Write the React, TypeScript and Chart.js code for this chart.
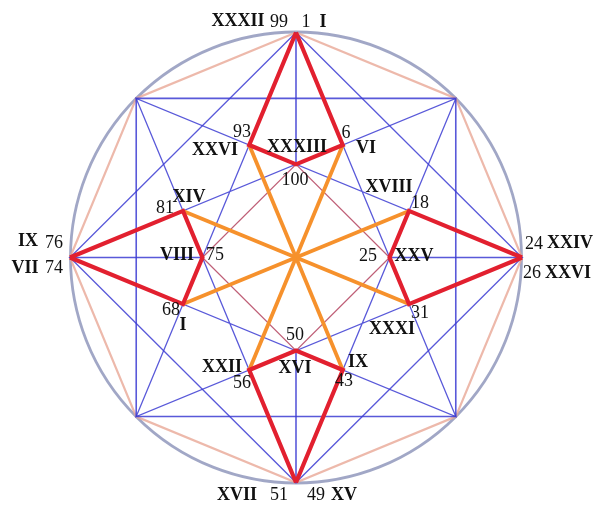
import React, { useEffect, useRef } from "react";
import { Chart, registerables } from "chart.js";
Chart.register(...registerables);

// Eight points on the rim (top first, clockwise)
const rimX = [0, 0.707, 1, 0.707, 0, -0.707, -1, -0.707];
const rimY = [1, 0.707, 0, -0.707, -1, -0.707, 0, 0.707];

// Inner diamond points: 100, 25, 50, 75
const innerX = [0, 0.414, 0, -0.414];
const innerY = [0.414, 0, -0.414, 0];

// Side points: 6, 18, 31, 43, 56, 68, 81, 93
const sideX = [0.207, 0.5, 0.5, 0.207, -0.207, -0.5, -0.5, -0.207];
const sideY = [0.5, 0.207, -0.207, -0.5, -0.5, -0.207, 0.207, 0.5];

// Line orders over rim points
const octagonOrder = [0, 1, 2, 3, 4, 5, 6, 7, 0];
const squareOrder = [1, 3, 5, 7, 1];
const diamondOrder = [0, 2, 4, 6, 0];
const starOrder = [0, 3, 6, 1, 4, 7, 2, 5, 0];

// Labels
const labelText = [
  "XXXII", "99", "1", "I",
  "93", "XXVI", "XXXIII", "6", "VI", "100", "XVIII",
  "XIV", "81", "IX", "76", "VII", "74", "VIII", "75", "68", "I",
  "18", "25", "XXV", "24", "XXIV", "26", "XXVI", "31", "XXXI",
  "50", "XXII", "XVI", "IX", "56", "43",
  "XVII", "51", "49", "XV",
];
const labelX = [
  -0.257, -0.075, 0.044, 0.119,
  -0.239, -0.358, 0.004, 0.221, 0.31, -0.004, 0.412,
  -0.473, -0.58, -1.186, -1.071, -1.199, -1.071, -0.527, -0.358, -0.553, -0.5,
  0.549, 0.319, 0.522, 1.053, 1.212, 1.044, 1.204, 0.549, 0.425,
  -0.004, -0.327, -0.004, 0.274, -0.239, 0.212,
  -0.261, -0.075, 0.088, 0.212,
];
const labelY = [
  1.049, 1.047, 1.047, 1.047,
  0.558, 0.478, 0.491, 0.553, 0.487, 0.344, 0.313,
  0.269, 0.22, 0.073, 0.064, -0.047, -0.047, 0.011, 0.011, -0.233, -0.3,
  0.242, 0.007, 0.007, 0.06, 0.064, -0.069, -0.069, -0.247, -0.318,
  -0.344, -0.487, -0.491, -0.464, -0.558, -0.549,
  -1.056, -1.056, -1.056, -1.056,
];

const isRoman = (t: string) => /^[IVXLC]+$/.test(t);

const BLUE = "rgba(60,60,210,0.85)";
const PINK = "rgba(232,168,150,0.8)";
const RIM = "rgba(145,152,188,0.85)";
const RED = "#e2202f";
const ORANGE = "#f6912c";
const DARKRED = "rgba(175,55,85,0.8)";

const rimPath = (order: number[]) => order.map((i) => ({ x: rimX[i], y: rimY[i] }));

function line(data: any[], color: string, width: number) {
  return {
    data,
    showLine: true,
    borderColor: color,
    backgroundColor: color,
    borderWidth: width,
    pointRadius: 0,
    pointHoverRadius: 0,
    fill: false,
    clip: false,
    borderJoinStyle: "miter" as const,
  };
}

export default function App() {
  const ref = useRef<HTMLCanvasElement | null>(null);
  useEffect(() => {
    if (!ref.current) return;
    const datasets: any[] = [];
    // red kites (topmost)
    for (let k = 0; k < 4; k++) {
      const s1 = 2 * k;
      const s2 = (2 * k + 7) % 8;
      datasets.push(
        line(
          [
            { x: rimX[2 * k], y: rimY[2 * k] },
            { x: sideX[s1], y: sideY[s1] },
            { x: innerX[k], y: innerY[k] },
            { x: sideX[s2], y: sideY[s2] },
            { x: rimX[2 * k], y: rimY[2 * k] },
          ],
          RED,
          4.2
        )
      );
    }
    // orange spokes
    for (let i = 0; i < 8; i++) {
      datasets.push(
        line([{ x: 0, y: 0 }, { x: sideX[i], y: sideY[i] }], ORANGE, 3.8)
      );
    }
    // thin inner diamond
    datasets.push(
      line(
        [0, 1, 2, 3, 0].map((i) => ({ x: innerX[i], y: innerY[i] })),
        DARKRED,
        1.3
      )
    );
    // blue axis segments
    for (let k = 0; k < 4; k++) {
      datasets.push(
        line(
          [
            { x: rimX[2 * k], y: rimY[2 * k] },
            { x: innerX[k], y: innerY[k] },
          ],
          BLUE,
          1.6
        )
      );
    }
    datasets.push(line(rimPath(starOrder), BLUE, 1.3));
    datasets.push(line(rimPath(diamondOrder), BLUE, 1.3));
    datasets.push(line(rimPath(squareOrder), BLUE, 1.6));
    datasets.push(line(rimPath(octagonOrder), PINK, 2.2));
    // rim circle
    datasets.push({
      data: [{ x: 0, y: 0 }],
      showLine: false,
      pointRadius: 225.5,
      pointHoverRadius: 225.5,
      pointBackgroundColor: "rgba(0,0,0,0)",
      pointBorderColor: RIM,
      pointBorderWidth: 2.8,
      clip: false,
    });

    const labelPlugin = {
      id: "labels",
      afterDatasetsDraw(chart: any) {
        const { ctx, scales } = chart;
        ctx.save();
        ctx.textAlign = "center";
        ctx.textBaseline = "middle";
        ctx.fillStyle = "#111";
        for (let i = 0; i < labelText.length; i++) {
          const t = labelText[i];
          ctx.font = isRoman(t)
            ? 'bold 18px "Liberation Serif", "Times New Roman", serif'
            : '18px "Liberation Serif", "Times New Roman", serif';
          ctx.fillText(
            t,
            scales.x.getPixelForValue(labelX[i]),
            scales.y.getPixelForValue(labelY[i])
          );
        }
        ctx.restore();
      },
    };

    const chart = new Chart(ref.current, {
      type: "scatter",
      data: { datasets },
      options: {
        responsive: false,
        maintainAspectRatio: false,
        animation: false,
        devicePixelRatio: 1,
        events: [],
        layout: { padding: 0, autoPadding: false },
        plugins: { legend: { display: false }, tooltip: { enabled: false } },
        scales: {
          x: { type: "linear", display: false, min: -1.3097, max: 1.323 },
          y: { type: "linear", display: false, min: -1.1089, max: 1.1444 },
        },
      } as any,
      plugins: [labelPlugin],
    });
    return () => chart.destroy();
  }, []);
  return (
    <div style={{ position: "absolute", left: 0, top: 0, width: 595, height: 507, background: "#fff" }}>
      <canvas ref={ref} width={595} height={507} style={{ width: 595, height: 507 }} />
    </div>
  );
}
